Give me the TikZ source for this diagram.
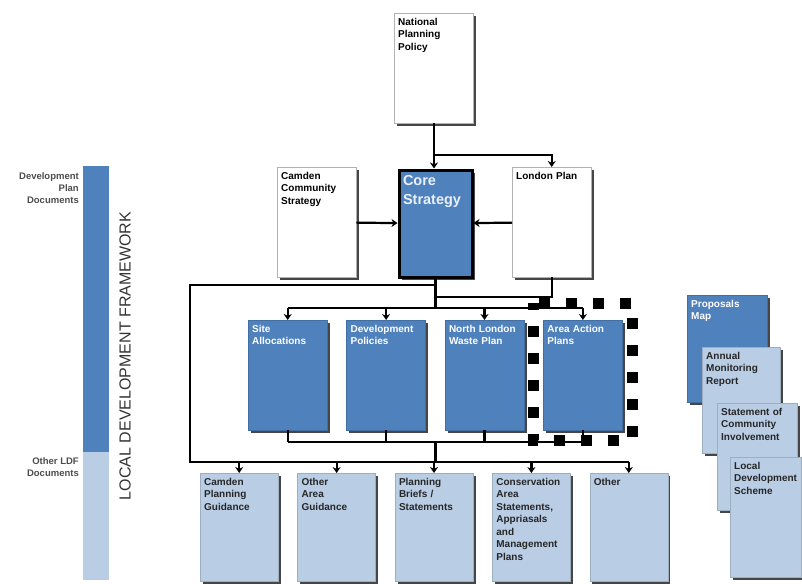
\documentclass[tikz,border=0pt]{standalone}
\usepackage{fontspec}
\setmainfont{Liberation Sans}
\usetikzlibrary{positioning,arrows.meta,shadows}
\definecolor{ldfdark}{RGB}{79,129,189}
\definecolor{ldflight}{RGB}{185,205,229}

\begin{document}
\begin{tikzpicture}[x=1pt, y=-1pt,
  node distance=19pt,
  box/.style={draw=black!30, fill=#1, text=black, align=left, anchor=north west,
              font=\fontsize{10}{12.5}\selectfont\bfseries, text width=71pt,
              inner sep=4pt, text height=8pt, text depth=94pt,
              drop shadow={shadow xshift=2.5pt, shadow yshift=-2.5pt, fill=black!85, opacity=.85}},
  box/.default=white,
  dbox/.style={box=ldfdark, text=white, draw=ldfdark!85!black},
  lbox/.style={box=ldflight, text=black!85, draw=ldflight!85!black},
  link/.style={line width=2.2pt, black},
  seta/.style={link, -{Stealth[length=6pt, width=8pt]}},
  side/.style={font=\fontsize{9.5}{12}\selectfont\bfseries, text=black!70, align=right,
               anchor=north east, inner sep=0pt},
]
\useasboundingbox (0,0) rectangle (802,583);

% ---- Barra lateral
\fill[ldfdark] (83,166) rectangle (109,452);
\fill[ldflight] (83,452) rectangle (109,580);
\node[side] (dpd) at (79,172) {Development\\Plan\\Documents};
\node[side] (oldf) at (79,457) {Other LDF\\Documents};
\node[rotate=90, font=\fontsize{16}{16}\selectfont, text=black!80] (ldf) at (125,356) {LOCAL DEVELOPMENT FRAMEWORK};

% ---- Linha 1: politica e estrategia
\node[box] (npp) at (394,13) {National\\Planning\\Policy};
\node[box] (ccs) at (277,167) {Camden\\Community\\Strategy};
\node[box=ldfdark, draw=black, line width=3pt, text=white!88!ldfdark,
      font=\fontsize{14.5}{19}\selectfont\bfseries, text width=65pt,
      text height=11pt, text depth=88pt] (core) at (397.5,168.5) {Core\\Strategy};
\node[box] (lp) at (512,167) {London Plan};

% ---- Linha 2: documentos do plano
\node[dbox] (sa) at (248,320) {Site\\Allocations};
\node[dbox, right=of sa] (dp) {Development\\Policies};
\node[dbox, right=of dp] (nlwp) {North London\\Waste Plan};
\node[dbox, right=of nlwp] (aap) {Area Action\\Plans};

% ---- Linha 3: outros documentos
\node[lbox, text width=70pt, text depth=92pt] (cpg) at (200,473) {Camden\\Planning\\Guidance};
\node[lbox, text width=70pt, text depth=92pt, right=of cpg] (oag) {Other\\Area\\Guidance};
\node[lbox, text width=70pt, text depth=92pt, right=of oag] (pbs) {Planning\\Briefs /\\Statements};
\node[lbox, text width=70pt, text depth=92pt, right=of pbs] (cas) {Conservation\\Area\\Statements,\\Appriasals\\and\\Management\\Plans};
\node[lbox, text width=70pt, text depth=92pt, right=of cas] (oth) {Other};

% ---- Pilha da direita
\node[dbox, text width=72pt, text depth=91pt] (pm) at (687,295) {Proposals\\Map};
\node[lbox, text width=70pt, text depth=90pt] (amr) at (702,347) {Annual\\Monitoring\\Report};
\node[lbox, text width=72pt, text depth=91pt] (sci) at (717,403) {Statement of\\Community\\Involvement};
\node[lbox, text width=63pt, text depth=104pt] (lds) at (730,457) {Local\\Development\\Scheme};

% ---- Pontos das barras
\coordinate (split) at (434,155);
\coordinate (lpjoin) at (434,297);
\coordinate (outernw) at (190,285);
\coordinate (topbus) at (287,308);
\coordinate (midbus) at (287,442);
\coordinate (lowbus) at (190,462);

% ---- Setas de cima
\draw[seta] (npp.south -| split) -- (core.north -| split);
\draw[seta] (split) -| (lp.north);
\draw[seta] (ccs) -- (core);
\draw[seta] (lp) -- (core);

% ---- Ligacoes para baixo
\draw[link] (core.south) -- (core.south |- topbus);
\draw[link] (lp.south) |- (lpjoin);
\draw[link] (core.south |- outernw) -- (outernw) -- (lowbus) -- (oth.north |- lowbus);
\draw[link] (sa.north |- topbus) -- (aap.north |- topbus);
\foreach \n in {sa,dp,nlwp,aap}
  \draw[seta] (\n.north |- topbus) -- (\n.north);
\foreach \n in {sa,dp,nlwp,aap}
  \draw[link] (\n.south) -- (\n.south |- midbus);
\draw[link] (sa.south |- midbus) -- (aap.south |- midbus);
\draw[link] (core.south |- midbus) -- (core.south |- lowbus);
\foreach \n in {cpg,oag,pbs,cas,oth}
  \draw[seta] (\n.north |- lowbus) -- (\n.north);

% ---- Moldura tracejada
\draw[line width=11pt, dash pattern=on 11pt off 16pt, dash phase=-6pt]
  (533,303) -- (632,303) -- (632,440) -- (533,440) -- cycle;
\end{tikzpicture}
\end{document}
